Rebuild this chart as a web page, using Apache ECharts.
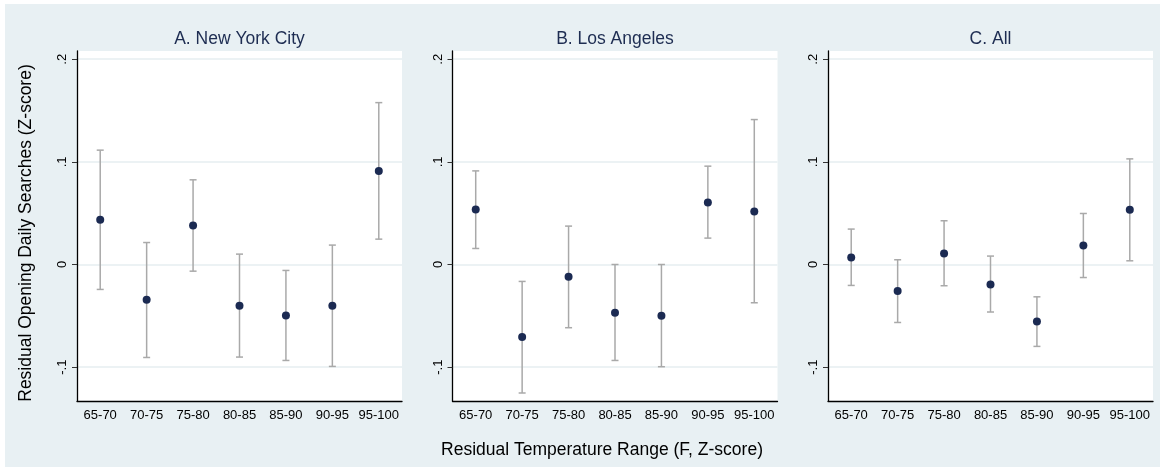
<!DOCTYPE html>
<html>
<head>
<meta charset="utf-8">
<script src="https://cdn.jsdelivr.net/npm/echarts@6/dist/echarts.min.js"></script>
<style>
  html, body { margin: 0; padding: 0; background: #ffffff; }
  #frame { position: absolute; left: 5px; top: 4px; width: 1155px; height: 463px; background: #e8f0f3; }
  #container1 { position: absolute; left: 0; top: 0; width: 1165px; height: 470px; }
</style>
</head>
<body>
<div id="frame"></div>
<div id="container1"></div>
<script>
// categories and tick labels
var categories = ['65-70', '70-75', '75-80', '80-85', '85-90', '90-95', '95-100'];
var panelTitles = ['A. New York City', 'B. Los Angeles', 'C. All'];
var yTicks = [-0.1, 0, 0.1, 0.2];
var yTickLabels = ['-.1', '0', '.1', '.2'];

// A. New York City
var nycPoint = [0.0435, -0.0344, 0.038, -0.0402, -0.0496, -0.0402, 0.0912];
var nycLow   = [-0.0243, -0.0906, -0.0065, -0.0902, -0.0935, -0.0993, 0.0247];
var nycHigh  = [0.1114, 0.0214, 0.0825, 0.0101, -0.0058, 0.0189, 0.1577];

// B. Los Angeles
var laPoint = [0.0536, -0.0707, -0.012, -0.047, -0.05, 0.0604, 0.0516];
var laLow   = [0.0156, -0.1252, -0.0616, -0.0935, -0.0996, 0.0257, -0.0373];
var laHigh  = [0.0912, -0.0165, 0.0374, 0.0, 0.0, 0.0958, 0.1412];

// C. All
var allPoint = [0.0068, -0.0259, 0.0107, -0.0195, -0.0555, 0.0185, 0.0533];
var allLow   = [-0.0204, -0.0565, -0.0207, -0.0463, -0.0798, -0.0127, 0.0036];
var allHigh  = [0.0345, 0.0046, 0.0426, 0.0082, -0.0315, 0.0497, 0.1029];

var panels = [
    { point: nycPoint, low: nycLow, high: nycHigh },
    { point: laPoint, low: laLow, high: laHigh },
    { point: allPoint, low: allLow, high: allHigh }
];

var FONT = '"Liberation Sans", Arial, Helvetica, sans-serif';
var gridLefts = [77, 452.5, 828];
var gridWidth = 325;

// 误差线
function renderErrorBar(params, api) {
    var x = api.value(0);
    var top = api.coord([x, api.value(2)]);
    var bot = api.coord([x, api.value(1)]);
    var cap = 3.5;
    var style = { stroke: '#a9a9a9', lineWidth: 1.5 };
    return {
        type: 'group',
        children: [
            { type: 'line', shape: { x1: top[0], y1: top[1], x2: bot[0], y2: bot[1] }, style: style },
            { type: 'line', shape: { x1: top[0] - cap, y1: top[1], x2: top[0] + cap, y2: top[1] }, style: style },
            { type: 'line', shape: { x1: bot[0] - cap, y1: bot[1], x2: bot[0] + cap, y2: bot[1] }, style: style }
        ]
    };
}

var myChart = echarts.init(document.getElementById('container1'));

var grids = [], xAxes = [], yAxes = [], series = [], graphics = [];
for (var i = 0; i < 3; i++) {
    grids.push({
        left: gridLefts[i], top: 51, width: gridWidth, height: 350,
        show: true, backgroundColor: '#ffffff', borderWidth: 0
    });
    xAxes.push({
        type: 'category', gridIndex: i, data: categories, boundaryGap: true,
        axisLine: { onZero: false, lineStyle: { color: '#000000', width: 1.3 } },
        axisTick: { alignWithLabel: true, length: 5, lineStyle: { color: '#333333' } },
        axisLabel: { interval: 0, color: '#000000', fontFamily: FONT, fontSize: 13, margin: 8 },
        splitLine: { show: false }
    });
    yAxes.push({
        type: 'value', gridIndex: i, min: -0.133, max: 0.208, splitNumber: 3,
        axisLine: { show: true, lineStyle: { color: '#000000', width: 1.3 } },
        axisTick: { show: true, length: 5, customValues: yTicks, lineStyle: { color: '#333333' } },
        axisLabel: {
            customValues: yTicks, rotate: 90, margin: 8,
            color: '#000000', fontFamily: FONT, fontSize: 13,
            formatter: function (v) {
                for (var k = 0; k < yTicks.length; k++) {
                    if (Math.abs(v - yTicks[k]) < 1e-9) return yTickLabels[k];
                }
                return '';
            }
        },
        splitLine: { show: true, lineStyle: { color: '#e6eef1', width: 1.5 } }
    });
    var barData = [], dotData = [];
    for (var j = 0; j < categories.length; j++) {
        barData.push([j, panels[i].low[j], panels[i].high[j]]);
        dotData.push([j, panels[i].point[j]]);
    }
    series.push({
        type: 'custom', xAxisIndex: i, yAxisIndex: i,
        renderItem: renderErrorBar, data: barData, z: 2,
        encode: { x: 0, y: [1, 2] }
    });
    series.push({
        type: 'scatter', xAxisIndex: i, yAxisIndex: i,
        data: dotData, symbolSize: 8, z: 3,
        itemStyle: { color: '#1b2a52', opacity: 1 }
    });
    graphics.push({
        type: 'text', x: gridLefts[i] + gridWidth / 2, y: 39,
        style: { text: panelTitles[i], font: '17.5px ' + FONT, fill: '#1e2d52', textAlign: 'center', textVerticalAlign: 'middle' }
    });
}

graphics.push({
    type: 'text', x: 26, y: 233, rotation: Math.PI / 2,
    style: { text: 'Residual Opening Daily Searches (Z-score)', font: '17.5px ' + FONT, fill: '#000000', textAlign: 'center', textVerticalAlign: 'middle' }
});
graphics.push({
    type: 'text', x: 602, y: 450,
    style: { text: 'Residual Temperature Range (F, Z-score)', font: '17.5px ' + FONT, fill: '#000000', textAlign: 'center', textVerticalAlign: 'middle' }
});

var option = {
    backgroundColor: 'transparent',
    animation: false,
    grid: grids,
    xAxis: xAxes,
    yAxis: yAxes,
    series: series,
    graphic: graphics
};
myChart.setOption(option);
</script>
</body>
</html>
